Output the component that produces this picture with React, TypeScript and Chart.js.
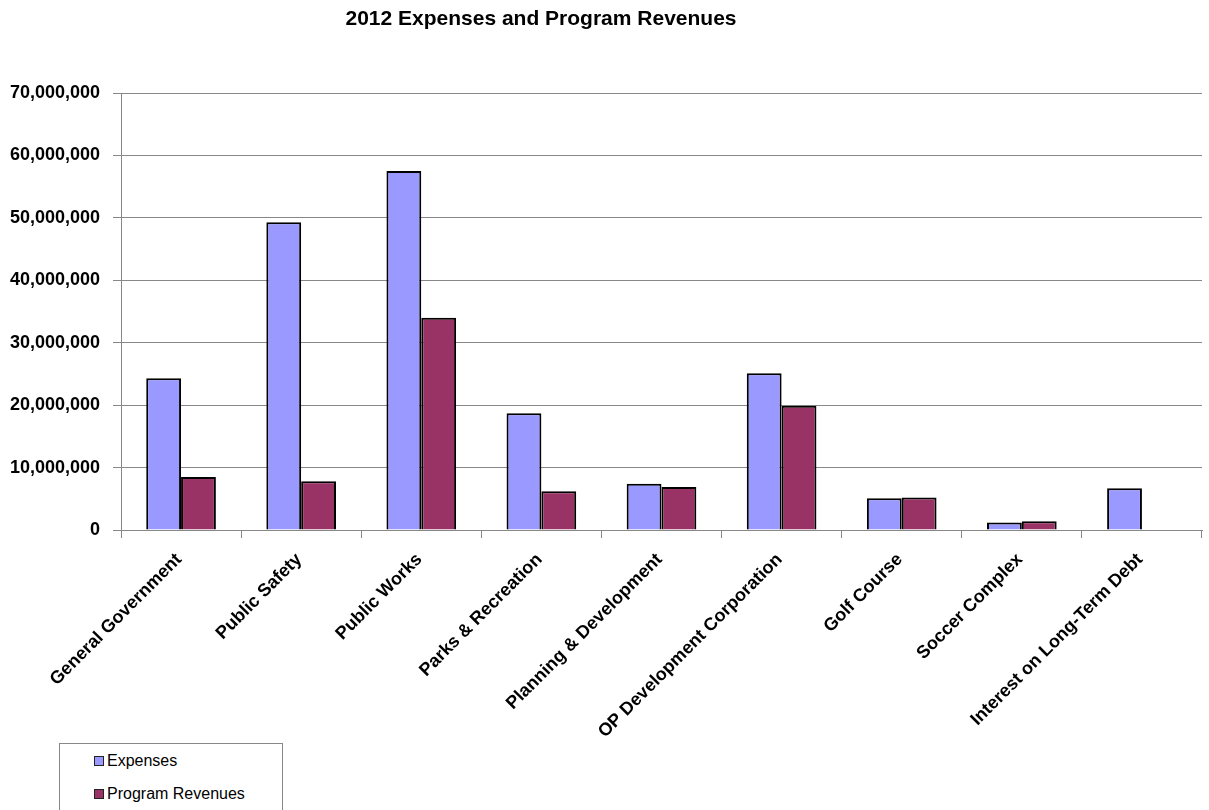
import React, { useEffect, useRef } from "react";
import { Chart, registerables } from "chart.js";

Chart.register(...registerables);

const categories = [
  "General Government",
  "Public Safety",
  "Public Works",
  "Parks & Recreation",
  "Planning & Development",
  "OP Development Corporation",
  "Golf Course",
  "Soccer Complex",
  "Interest on Long-Term Debt",
];
const expenses = [24300000, 49300000, 57500000, 18700000, 7400000, 25100000, 5100000, 1200000, 6700000];
const programRevenues = [8500000, 7800000, 34000000, 6200000, 6900000, 19900000, 5200000, 1400000, 0];
const titleText = "2012 Expenses and Program Revenues";
const yTicks = [0, 10000000, 20000000, 30000000, 40000000, 50000000, 60000000, 70000000];

const FONT = '"Liberation Sans", Arial, sans-serif';

const titlePlugin = {
  id: "customTitle",
  afterDraw(chart: any) {
    const ctx = chart.ctx;
    ctx.save();
    ctx.font = `bold 21px ${FONT}`;
    ctx.fillStyle = "#000";
    ctx.textAlign = "center";
    ctx.textBaseline = "middle";
    ctx.fillText(titleText, 541, 19);
    ctx.restore();
  },
};

export default function App() {
  const ref = useRef<HTMLCanvasElement | null>(null);
  useEffect(() => {
    document.body.style.margin = "0";
    const chart = new Chart(ref.current as HTMLCanvasElement, {
      type: "bar",
      data: {
        labels: categories,
        datasets: [
          {
            label: "Expenses",
            data: expenses,
            backgroundColor: "#9999FF",
            borderColor: "#000000",
            borderWidth: 2,
            categoryPercentage: 0.58,
            barPercentage: 1,
          },
          {
            label: "Program Revenues",
            data: programRevenues,
            backgroundColor: "#993366",
            borderColor: "#000000",
            borderWidth: 2,
            categoryPercentage: 0.58,
            barPercentage: 1,
          },
        ],
      },
      options: {
        animation: false,
        responsive: false,
        maintainAspectRatio: false,
        layout: { padding: { top: 93, right: 7, left: 0, bottom: 0 } },
        plugins: {
          legend: { display: false },
          title: { display: false },
          tooltip: { enabled: false },
        },
        scales: {
          x: {
            grid: {
              display: true,
              drawOnChartArea: false,
              offset: true,
              tickLength: 8,
              color: "#888888",
            },
            border: { display: true, color: "#888888", width: 1 },
            ticks: {
              minRotation: 45,
              maxRotation: 45,
              autoSkip: false,
              labelOffset: -2,
              padding: 11,
              color: "#000",
              font: { family: FONT, size: 18, weight: "bold" },
            },
            afterFit(scale: any) {
              scale.height = 280;
            },
          },
          y: {
            min: 0,
            max: 70000000,
            afterBuildTicks(scale: any) {
              scale.ticks = yTicks.map((v) => ({ value: v }));
            },
            grid: {
              color: "#888888",
              lineWidth: 1,
              tickLength: 8,
            },
            border: { display: true, color: "#888888", width: 1 },
            ticks: {
              padding: 13,
              color: "#000",
              font: { family: FONT, size: 18, weight: "bold" },
              callback: (v: any) => Number(v).toLocaleString("en-US"),
            },
            afterFit(scale: any) {
              scale.width = 121;
            },
          },
        },
      },
      plugins: [titlePlugin],
    });
    return () => chart.destroy();
  }, []);

  const item = (color: string, label: string, top: number) => (
    <div
      style={{
        position: "absolute",
        left: 34,
        top,
        display: "flex",
        alignItems: "center",
        fontFamily: FONT,
        fontSize: 16,
        color: "#000",
        lineHeight: "18px",
      }}
    >
      <span
        style={{
          display: "inline-block",
          width: 8,
          height: 8,
          background: color,
          border: "1.5px solid #222",
          marginRight: 3,
        }}
      />
      <span>{label}</span>
    </div>
  );

  return (
    <div style={{ position: "relative", width: 1209, height: 810, overflow: "hidden", background: "#fff" }}>
      <canvas ref={ref} width={1209} height={810} style={{ position: "absolute", left: 0, top: 0 }} />
      <div
        style={{
          position: "absolute",
          left: 59,
          top: 743,
          width: 222,
          height: 90,
          border: "1px solid #888",
          background: "#fff",
        }}
      >
        {item("#9999FF", "Expenses", 8)}
        {item("#993366", "Program Revenues", 41)}
      </div>
    </div>
  );
}
